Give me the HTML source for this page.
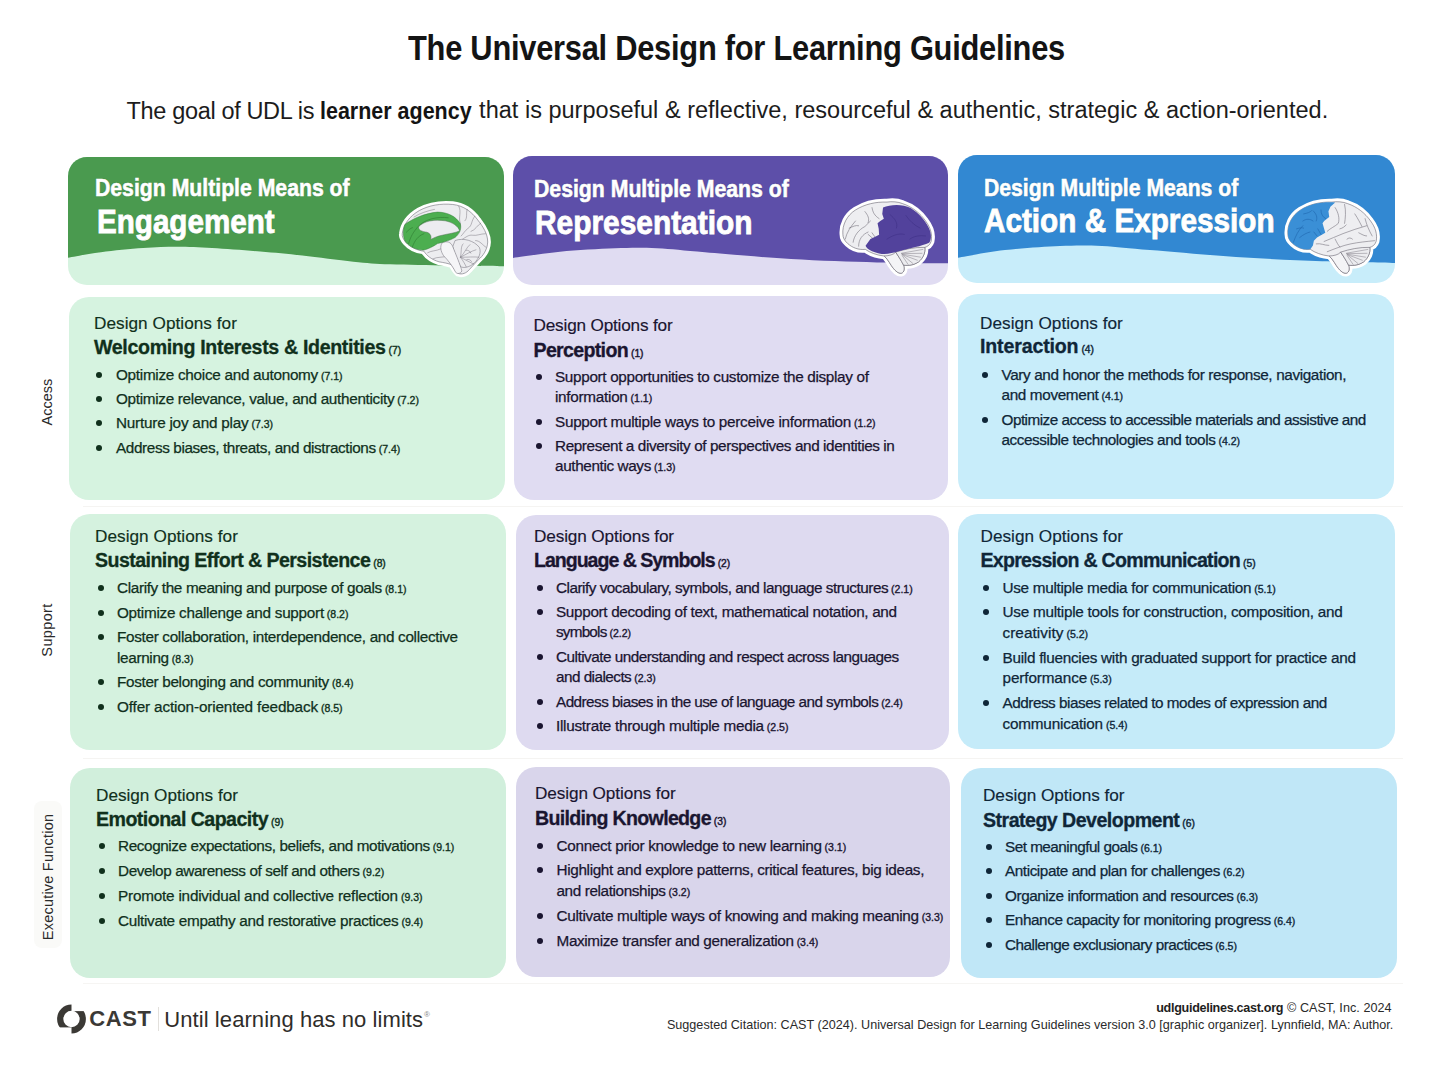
<!DOCTYPE html>
<html><head><meta charset="utf-8"><style>
html,body{margin:0;padding:0;background:#ffffff;}
body{width:1451px;height:1079px;position:relative;overflow:hidden;font-family:"Liberation Sans", sans-serif;}
.t{position:absolute;white-space:nowrap;}
.b{position:absolute;}

</style></head><body>
<div class="t" style="left:407.90px;top:31.02px;font-size:34.8px;line-height:34.8px;font-weight:700;color:#141414;letter-spacing:-0.300px;transform:scaleX(0.8867);transform-origin:0 0;">The Universal Design for Learning Guidelines</div>
<div class="t" style="left:126.60px;top:99.93px;font-size:23.5px;line-height:23.5px;font-weight:400;color:#1c1c1c;letter-spacing:-0.350px;">The goal of UDL is</div>
<div class="t" style="left:320.30px;top:99.53px;font-size:23.5px;line-height:23.5px;font-weight:700;color:#141414;letter-spacing:0.000px;transform:scaleX(0.9140);transform-origin:0 0;">learner agency</div>
<div class="t" style="left:479.10px;top:98.93px;font-size:23.5px;line-height:23.5px;font-weight:400;color:#1c1c1c;letter-spacing:0.016px;">that is purposeful &amp; reflective, resourceful &amp; authentic, strategic &amp; action-oriented.</div>
<div class="b" style="left:68px;top:156.5px;width:436px;height:128.5px;background:#d6f3e0;border-radius:19px;overflow:hidden"><svg width="436" height="128.5" style="position:absolute;left:0;top:0"><path d="M0,0 L436,0 L436,109.3 C426.7,109.2 399.4,108.9 380.4,108.6 C361.5,108.3 338.2,107.9 322.4,107.3 C306.5,106.7 300.0,106.2 285.3,104.7 C270.6,103.2 249.8,100.2 234.3,98.5 C218.8,96.8 207.2,95.7 192.2,94.5 C177.2,93.3 158.0,91.9 144.2,91.1 C130.3,90.3 120.6,89.7 109.1,89.7 C97.6,89.7 87.8,90.2 75.1,91.1 C62.4,92.0 45.6,93.6 33.0,95.2 C20.5,96.8 5.5,99.8 0.0,100.7 Z" fill="#4a9a4f"/></svg></div>
<div class="t" style="left:95.00px;top:177.00px;font-size:23.3px;line-height:23.3px;font-weight:700;color:#ffffff;letter-spacing:0.000px;transform:scaleX(0.9108);transform-origin:0 0;-webkit-text-stroke:0.6px #fff;text-shadow:0 0 1.2px rgba(0,30,0,0.55);">Design Multiple Means of</div>
<div class="t" style="left:96.80px;top:204.87px;font-size:33.8px;line-height:33.8px;font-weight:700;color:#ffffff;letter-spacing:0.000px;transform:scaleX(0.8758);transform-origin:0 0;-webkit-text-stroke:0.9px #fff;text-shadow:0 0 1.2px rgba(0,30,0,0.55);">Engagement</div>
<div class="b" style="left:513px;top:156px;width:435px;height:129px;background:#e0dcf2;border-radius:19px;overflow:hidden"><svg width="435" height="129" style="position:absolute;left:0;top:0"><path d="M0,0 L435,0 L435,107.3 C423.2,107.2 390.2,107.1 364.0,106.4 C337.8,105.7 306.7,104.7 278.0,103.0 C249.3,101.3 214.3,98.1 192.0,96.3 C169.7,94.5 159.0,93.0 144.0,92.3 C129.0,91.6 118.2,91.7 102.0,92.3 C85.8,92.9 64.0,94.1 47.0,95.7 C30.0,97.3 7.8,100.9 0.0,101.9 Z" fill="#5d4fa9"/></svg></div>
<div class="t" style="left:534.20px;top:178.00px;font-size:23.3px;line-height:23.3px;font-weight:700;color:#ffffff;letter-spacing:0.000px;transform:scaleX(0.9115);transform-origin:0 0;-webkit-text-stroke:0.6px #fff;text-shadow:0 0 1.2px rgba(0,30,0,0.55);">Design Multiple Means of</div>
<div class="t" style="left:534.80px;top:205.97px;font-size:33.8px;line-height:33.8px;font-weight:700;color:#ffffff;letter-spacing:0.000px;transform:scaleX(0.8840);transform-origin:0 0;-webkit-text-stroke:0.9px #fff;text-shadow:0 0 1.2px rgba(0,30,0,0.55);">Representation</div>
<div class="b" style="left:958px;top:154.5px;width:437px;height:128.5px;background:#c8edfa;border-radius:19px;overflow:hidden"><svg width="437" height="128.5" style="position:absolute;left:0;top:0"><path d="M0,0 L437,0 L437,107.9 C424.8,107.6 390.5,107.2 364.0,106.2 C337.5,105.2 306.7,103.8 278.0,101.9 C249.3,100.1 214.3,96.9 192.0,95.1 C169.7,93.3 159.0,91.7 144.0,91.0 C129.0,90.3 118.2,90.3 102.0,91.0 C85.8,91.7 64.0,93.1 47.0,95.1 C30.0,97.0 7.8,101.4 0.0,102.7 Z" fill="#3288d2"/></svg></div>
<div class="t" style="left:984.00px;top:176.90px;font-size:23.3px;line-height:23.3px;font-weight:700;color:#ffffff;letter-spacing:0.000px;transform:scaleX(0.9093);transform-origin:0 0;-webkit-text-stroke:0.6px #fff;text-shadow:0 0 1.2px rgba(0,30,0,0.55);">Design Multiple Means of</div>
<div class="t" style="left:983.60px;top:203.97px;font-size:33.8px;line-height:33.8px;font-weight:700;color:#ffffff;letter-spacing:0.000px;transform:scaleX(0.8790);transform-origin:0 0;-webkit-text-stroke:0.9px #fff;text-shadow:0 0 1.2px rgba(0,30,0,0.55);">Action &amp; Expression</div>
<svg class="b" style="left:395px;top:198px" width="100" height="82" viewBox="0 0 1316 1079">
<path d="M95,470 C110,350 190,240 320,165 C450,95 600,70 760,85 C900,100 1010,180 1090,290 C1160,380 1220,470 1220,580 C1215,680 1160,760 1100,810 C1060,850 1020,900 980,940 C940,990 880,1012 830,992 C790,960 770,920 750,880 C700,860 640,850 580,840 C480,810 420,760 380,700 C300,690 200,650 140,580 C105,540 90,500 95,470 Z" fill="#fff" stroke="#fff" stroke-width="84" stroke-linejoin="round"/>
<path d="M95,470 C110,350 190,240 320,165 C450,95 600,70 760,85 C900,100 1010,180 1090,290 C1160,380 1220,470 1220,580 C1215,680 1160,760 1100,810 C1060,850 1020,900 980,940 C940,990 880,1012 830,992 C790,960 770,920 750,880 C700,860 640,850 580,840 C480,810 420,760 380,700 C300,690 200,650 140,580 C105,540 90,500 95,470 Z" fill="#ededf0" stroke="#5d5a66" stroke-width="7"/>
<path d="M840,110 C880,180 830,260 860,330 C870,380 830,420 800,450 M1050,240 C1000,300 1020,360 960,400 C920,430 900,470 870,500 M1190,470 C1120,470 1080,500 1020,490 C970,480 930,520 890,540 M950,150 C930,200 960,260 920,300 M1130,330 C1080,360 1060,420 1000,440 M1200,650 C1150,620 1120,560 1060,560 M430,720 C480,690 540,700 600,670 M500,800 C560,770 620,790 700,760 M250,250 C330,200 420,170 520,150" fill="none" stroke="#6e6a74" stroke-width="6" stroke-linecap="round"/>
<path d="M790,560 C900,520 1040,560 1110,650 C1140,720 1100,800 1040,860 C980,910 900,930 860,900 C820,820 780,720 760,640 Z" fill="#ececef" stroke="#5d5a66" stroke-width="6"/>
<path d="M860,780 C880,700 860,640 900,600 M860,780 C920,720 940,650 990,610 M860,780 C940,740 1000,700 1070,680 M860,780 C960,780 1040,770 1110,780 M860,780 C940,820 990,850 1040,870 M860,780 C900,830 920,870 940,910 M930,690 C960,680 990,700 1000,730 M940,810 C970,800 1000,820 1010,840" fill="none" stroke="#706c78" stroke-width="6"/>
<path d="M620,590 C680,560 740,580 760,640 C800,740 860,880 880,960 C860,1000 820,1000 800,980 C760,900 700,820 640,760 C600,700 590,640 620,590 Z" fill="#f5f5f7" stroke="#5d5a66" stroke-width="6"/>
<path d="M130,350 C230,270 400,200 560,185 C700,190 800,240 860,340 C880,420 840,480 790,520 C720,560 640,580 560,600 C500,640 440,670 380,685 C300,690 200,650 140,580 C105,530 100,420 130,350 Z" fill="#4cae50" stroke="#2f7a35" stroke-width="6"/>
<path d="M180,600 C200,520 240,440 320,360 C400,280 560,240 700,260 M230,640 C260,560 300,500 380,470 M150,450 C180,420 200,400 230,390" fill="none" stroke="#2e7d32" stroke-width="8" stroke-linecap="round"/>
<path d="M310,380 C380,300 520,280 660,300 C760,320 830,370 850,430 C800,460 700,470 620,490 C560,500 500,530 470,545 C480,500 470,470 420,450 C360,440 310,430 310,380 Z" fill="#ececf0" stroke="#4d6650" stroke-width="6"/>
</svg><svg class="b" style="left:835px;top:195px" width="105" height="85" viewBox="0 0 1333 1079">
<path d="M100,500 C90,380 150,260 260,190 C380,115 520,85 660,90 C720,80 800,85 860,110 C980,150 1080,230 1150,330 C1210,410 1240,500 1220,590 C1205,635 1175,655 1140,665 C1150,730 1120,800 1060,850 C1000,890 930,900 870,890 C885,935 880,980 845,992 C800,1002 750,950 715,895 C680,840 655,800 625,775 C530,765 440,730 385,690 C300,700 220,670 160,615 C120,580 100,540 100,500 Z" fill="#fff" stroke="#fff" stroke-width="84" stroke-linejoin="round"/>
<path d="M100,500 C90,380 150,260 260,190 C380,115 520,85 660,90 C720,80 800,85 860,110 C980,150 1080,230 1150,330 C1210,410 1240,500 1220,590 C1205,635 1175,655 1140,665 C1150,730 1120,800 1060,850 C1000,890 930,900 870,890 C885,935 880,980 845,992 C800,1002 750,950 715,895 C680,840 655,800 625,775 C530,765 440,730 385,690 C300,700 220,670 160,615 C120,580 100,540 100,500 Z" fill="#eeeef1" stroke="#5d5a66" stroke-width="7"/>
<path d="M625,775 C690,770 740,760 770,725 C800,770 840,830 870,890 C885,935 880,980 845,992 C800,1002 750,950 715,895 C680,840 655,800 625,775 Z" fill="#f4f4f6" stroke="#5d5a66" stroke-width="7"/>
<path d="M770,725 C880,690 1010,660 1140,665 C1150,730 1120,800 1060,850 C1000,890 930,900 870,890 C840,830 800,770 770,725 Z" fill="#ececef" stroke="#5d5a66" stroke-width="7"/>
<path d="M840,740 L1120,690 M840,745 L1110,740 M845,750 L1090,790 M850,755 L1050,830 M855,760 L990,870 M850,765 L930,885" fill="none" stroke="#77747e" stroke-width="6"/>
<path d="M130,560 C150,470 200,400 260,330 M230,600 C240,520 300,440 380,400 L450,330 M300,650 C300,560 350,500 420,470 M180,420 C230,400 260,380 300,390 M380,210 C420,260 440,300 420,350 M470,160 C480,220 500,260 560,300 M520,550 L470,480 M490,560 L420,500" fill="none" stroke="#6e6a74" stroke-width="7" stroke-linecap="round"/>
<path d="M610,160 C700,118 860,112 960,165 C1060,225 1140,315 1190,415 C1232,500 1222,575 1195,605 C1100,650 950,672 820,712 C720,742 640,758 560,742 C470,722 405,690 388,645 L420,600 L450,560 L510,530 L560,505 L555,430 L540,360 L575,330 L620,300 L600,240 Z" fill="#52429c"/>
<path d="M700,250 C760,300 800,350 780,420 M900,260 C950,330 1000,380 1080,420 M660,560 C720,520 800,480 880,500 M950,560 C1000,520 1080,510 1150,520" fill="none" stroke="#3f3188" stroke-width="8" stroke-linecap="round"/>
</svg><svg class="b" style="left:1280px;top:195px" width="105" height="85" viewBox="0 0 1333 1079">
<path d="M100,500 C90,380 150,260 260,190 C380,115 520,85 660,90 C720,80 800,85 860,110 C980,150 1080,230 1150,330 C1210,410 1240,500 1220,590 C1205,635 1175,655 1140,665 C1150,730 1120,800 1060,850 C1000,890 930,900 870,890 C885,935 880,980 845,992 C800,1002 750,950 715,895 C680,840 655,800 625,775 C530,765 440,730 385,690 C300,700 220,670 160,615 C120,580 100,540 100,500 Z" fill="#fff" stroke="#fff" stroke-width="84" stroke-linejoin="round"/>
<path d="M100,500 C90,380 150,260 260,190 C380,115 520,85 660,90 C720,80 800,85 860,110 C980,150 1080,230 1150,330 C1210,410 1240,500 1220,590 C1205,635 1175,655 1140,665 C1150,730 1120,800 1060,850 C1000,890 930,900 870,890 C885,935 880,980 845,992 C800,1002 750,950 715,895 C680,840 655,800 625,775 C530,765 440,730 385,690 C300,700 220,670 160,615 C120,580 100,540 100,500 Z" fill="#eeeef1" stroke="#5d5a66" stroke-width="7"/>
<path d="M625,775 C690,770 740,760 770,725 C800,770 840,830 870,890 C885,935 880,980 845,992 C800,1002 750,950 715,895 C680,840 655,800 625,775 Z" fill="#f4f4f6" stroke="#5d5a66" stroke-width="7"/>
<path d="M770,725 C880,690 1010,660 1140,665 C1150,730 1120,800 1060,850 C1000,890 930,900 870,890 C840,830 800,770 770,725 Z" fill="#ececef" stroke="#5d5a66" stroke-width="7"/>
<path d="M840,740 L1120,690 M840,745 L1110,740 M845,750 L1090,790 M850,755 L1050,830 M855,760 L990,870 M850,765 L930,885" fill="none" stroke="#77747e" stroke-width="6"/>
<path d="M700,160 C740,220 760,300 740,360 C700,400 640,420 600,460 M820,120 C840,200 830,300 820,360 M560,590 C640,560 720,520 800,490 C900,450 1000,420 1100,390 M600,720 C700,680 800,640 900,620 C1000,600 1100,590 1200,580 M460,620 C520,610 560,640 620,640 M700,560 C720,600 740,640 760,660 M850,560 C870,540 900,540 920,560 M1000,480 C1040,500 1070,520 1100,520 M950,240 C990,300 1020,360 1040,400 M1080,300 C1100,380 1130,450 1170,520 M760,430 C800,420 820,400 840,380" fill="none" stroke="#6e6a74" stroke-width="7" stroke-linecap="round"/>
<path d="M100,500 C90,380 150,260 260,190 C380,115 520,85 700,95 L640,150 L615,205 L625,280 L560,330 L540,360 L575,480 L470,540 L430,580 L418,640 L385,690 C300,700 220,670 160,615 C120,580 100,540 100,500 Z" fill="#3a8fd6"/>
<path d="M170,600 C200,520 230,450 290,390 M250,540 C300,500 340,480 380,470 M290,330 C330,300 380,300 420,330 M210,430 C240,420 280,410 300,420 M420,200 C460,240 480,280 460,330 M520,190 C520,240 540,280 580,300 M300,240 C350,230 380,220 400,200 M470,520 L430,470 M520,500 L480,430" fill="none" stroke="#2068b0" stroke-width="8" stroke-linecap="round"/>
</svg>
<div class="b" style="left:83px;top:506px;width:1320px;height:1px;background:#f5f4f2"></div>
<div class="b" style="left:83px;top:758px;width:1320px;height:1px;background:#f5f4f2"></div>
<div class="b" style="left:83px;top:983px;width:1320px;height:1px;background:#f6f5f3"></div>
<div class="b" style="left:34px;top:801px;width:28px;height:147px;border-radius:8px;background:#fafaf8"></div>
<div class="b" style="left:69px;top:297px;width:436px;height:203px;background:#d6f3e0;border-radius:20px;"></div>
<div class="t" style="left:94.00px;top:315.38px;font-size:17.2px;line-height:17.2px;font-weight:400;color:#10301c;letter-spacing:0.035px;-webkit-text-stroke:0.15px #10301c;">Design Options for</div>
<div class="t" style="left:94.00px;top:338.34px;font-size:19.6px;line-height:19.6px;font-weight:700;color:#10301c;letter-spacing:-0.335px;-webkit-text-stroke:0.3px #10301c;">Welcoming Interests &amp; Identities<span style="font-size:10.3px;font-weight:700;letter-spacing:0;margin-left:3px;font-weight:400;-webkit-text-stroke:0.4px #10301c">(7)</span></div>
<div class="t" style="left:116.00px;top:367.00px;font-size:15.3px;line-height:15.3px;font-weight:400;color:#10301c;letter-spacing:-0.289px;-webkit-text-stroke:0.25px #10301c;">Optimize choice and autonomy<span style="font-size:10.3px;font-weight:700;letter-spacing:0;margin-left:3px;font-size:10.5px;font-weight:400;-webkit-text-stroke:0.35px #10301c">(7.1)</span></div>
<div class="b" style="left:96.0px;top:372.2px;width:6px;height:6px;border-radius:3px;background:#10301c"></div>
<div class="t" style="left:116.00px;top:391.00px;font-size:15.3px;line-height:15.3px;font-weight:400;color:#10301c;letter-spacing:-0.310px;-webkit-text-stroke:0.25px #10301c;">Optimize relevance, value, and authenticity<span style="font-size:10.3px;font-weight:700;letter-spacing:0;margin-left:3px;font-size:10.5px;font-weight:400;-webkit-text-stroke:0.35px #10301c">(7.2)</span></div>
<div class="b" style="left:96.0px;top:396.2px;width:6px;height:6px;border-radius:3px;background:#10301c"></div>
<div class="t" style="left:116.00px;top:415.00px;font-size:15.3px;line-height:15.3px;font-weight:400;color:#10301c;letter-spacing:-0.226px;-webkit-text-stroke:0.25px #10301c;">Nurture joy and play<span style="font-size:10.3px;font-weight:700;letter-spacing:0;margin-left:3px;font-size:10.5px;font-weight:400;-webkit-text-stroke:0.35px #10301c">(7.3)</span></div>
<div class="b" style="left:96.0px;top:420.2px;width:6px;height:6px;border-radius:3px;background:#10301c"></div>
<div class="t" style="left:116.00px;top:439.50px;font-size:15.3px;line-height:15.3px;font-weight:400;color:#10301c;letter-spacing:-0.385px;-webkit-text-stroke:0.25px #10301c;">Address biases, threats, and distractions<span style="font-size:10.3px;font-weight:700;letter-spacing:0;margin-left:3px;font-size:10.5px;font-weight:400;-webkit-text-stroke:0.35px #10301c">(7.4)</span></div>
<div class="b" style="left:96.0px;top:444.7px;width:6px;height:6px;border-radius:3px;background:#10301c"></div>
<div class="b" style="left:514px;top:296px;width:434px;height:204px;background:#e0dcf2;border-radius:20px;"></div>
<div class="t" style="left:533.50px;top:317.38px;font-size:17.2px;line-height:17.2px;font-weight:400;color:#1a1530;letter-spacing:-0.188px;-webkit-text-stroke:0.15px #1a1530;">Design Options for</div>
<div class="t" style="left:533.50px;top:340.84px;font-size:19.6px;line-height:19.6px;font-weight:700;color:#1a1530;letter-spacing:-0.680px;-webkit-text-stroke:0.3px #1a1530;">Perception<span style="font-size:10.3px;font-weight:700;letter-spacing:0;margin-left:3px;font-weight:400;-webkit-text-stroke:0.4px #1a1530">(1)</span></div>
<div class="t" style="left:555.00px;top:369.00px;font-size:15.3px;line-height:15.3px;font-weight:400;color:#1a1530;letter-spacing:-0.333px;-webkit-text-stroke:0.25px #1a1530;">Support opportunities to customize the display of</div>
<div class="b" style="left:536.0px;top:374.2px;width:6px;height:6px;border-radius:3px;background:#1a1530"></div>
<div class="t" style="left:555.00px;top:389.00px;font-size:15.3px;line-height:15.3px;font-weight:400;color:#1a1530;letter-spacing:-0.280px;-webkit-text-stroke:0.25px #1a1530;">information<span style="font-size:10.3px;font-weight:700;letter-spacing:0;margin-left:3px;font-size:10.5px;font-weight:400;-webkit-text-stroke:0.35px #1a1530">(1.1)</span></div>
<div class="t" style="left:555.00px;top:413.50px;font-size:15.3px;line-height:15.3px;font-weight:400;color:#1a1530;letter-spacing:-0.282px;-webkit-text-stroke:0.25px #1a1530;">Support multiple ways to perceive information<span style="font-size:10.3px;font-weight:700;letter-spacing:0;margin-left:3px;font-size:10.5px;font-weight:400;-webkit-text-stroke:0.35px #1a1530">(1.2)</span></div>
<div class="b" style="left:536.0px;top:418.7px;width:6px;height:6px;border-radius:3px;background:#1a1530"></div>
<div class="t" style="left:555.00px;top:438.00px;font-size:15.3px;line-height:15.3px;font-weight:400;color:#1a1530;letter-spacing:-0.398px;-webkit-text-stroke:0.25px #1a1530;">Represent a diversity of perspectives and identities in</div>
<div class="b" style="left:536.0px;top:443.2px;width:6px;height:6px;border-radius:3px;background:#1a1530"></div>
<div class="t" style="left:555.00px;top:458.00px;font-size:15.3px;line-height:15.3px;font-weight:400;color:#1a1530;letter-spacing:-0.377px;-webkit-text-stroke:0.25px #1a1530;">authentic ways<span style="font-size:10.3px;font-weight:700;letter-spacing:0;margin-left:3px;font-size:10.5px;font-weight:400;-webkit-text-stroke:0.35px #1a1530">(1.3)</span></div>
<div class="b" style="left:958px;top:294px;width:436px;height:205px;background:#c8edfa;border-radius:20px;"></div>
<div class="t" style="left:980.00px;top:314.88px;font-size:17.2px;line-height:17.2px;font-weight:400;color:#0f2638;letter-spacing:0.024px;-webkit-text-stroke:0.15px #0f2638;">Design Options for</div>
<div class="t" style="left:980.00px;top:337.34px;font-size:19.6px;line-height:19.6px;font-weight:700;color:#0f2638;letter-spacing:-0.160px;-webkit-text-stroke:0.3px #0f2638;">Interaction<span style="font-size:10.3px;font-weight:700;letter-spacing:0;margin-left:3px;font-weight:400;-webkit-text-stroke:0.4px #0f2638">(4)</span></div>
<div class="t" style="left:1001.50px;top:366.50px;font-size:15.3px;line-height:15.3px;font-weight:400;color:#0f2638;letter-spacing:-0.367px;-webkit-text-stroke:0.25px #0f2638;">Vary and honor the methods for response, navigation,</div>
<div class="b" style="left:982.0px;top:371.7px;width:6px;height:6px;border-radius:3px;background:#0f2638"></div>
<div class="t" style="left:1001.50px;top:387.00px;font-size:15.3px;line-height:15.3px;font-weight:400;color:#0f2638;letter-spacing:-0.355px;-webkit-text-stroke:0.25px #0f2638;">and movement<span style="font-size:10.3px;font-weight:700;letter-spacing:0;margin-left:3px;font-size:10.5px;font-weight:400;-webkit-text-stroke:0.35px #0f2638">(4.1)</span></div>
<div class="t" style="left:1001.50px;top:411.50px;font-size:15.3px;line-height:15.3px;font-weight:400;color:#0f2638;letter-spacing:-0.514px;-webkit-text-stroke:0.25px #0f2638;">Optimize access to accessible materials and assistive and</div>
<div class="b" style="left:982.0px;top:416.7px;width:6px;height:6px;border-radius:3px;background:#0f2638"></div>
<div class="t" style="left:1001.50px;top:432.00px;font-size:15.3px;line-height:15.3px;font-weight:400;color:#0f2638;letter-spacing:-0.425px;-webkit-text-stroke:0.25px #0f2638;">accessible technologies and tools<span style="font-size:10.3px;font-weight:700;letter-spacing:0;margin-left:3px;font-size:10.5px;font-weight:400;-webkit-text-stroke:0.35px #0f2638">(4.2)</span></div>
<div class="b" style="left:70px;top:514px;width:436px;height:236px;background:#d5f2df;border-radius:20px;"></div>
<div class="t" style="left:95.00px;top:528.38px;font-size:17.2px;line-height:17.2px;font-weight:400;color:#10301c;letter-spacing:0.035px;-webkit-text-stroke:0.15px #10301c;">Design Options for</div>
<div class="t" style="left:95.00px;top:551.34px;font-size:19.6px;line-height:19.6px;font-weight:700;color:#10301c;letter-spacing:-0.570px;-webkit-text-stroke:0.3px #10301c;">Sustaining Effort &amp; Persistence<span style="font-size:10.3px;font-weight:700;letter-spacing:0;margin-left:3px;font-weight:400;-webkit-text-stroke:0.4px #10301c">(8)</span></div>
<div class="t" style="left:117.00px;top:580.00px;font-size:15.3px;line-height:15.3px;font-weight:400;color:#10301c;letter-spacing:-0.351px;-webkit-text-stroke:0.25px #10301c;">Clarify the meaning and purpose of goals<span style="font-size:10.3px;font-weight:700;letter-spacing:0;margin-left:3px;font-size:10.5px;font-weight:400;-webkit-text-stroke:0.35px #10301c">(8.1)</span></div>
<div class="b" style="left:97.5px;top:585.2px;width:6px;height:6px;border-radius:3px;background:#10301c"></div>
<div class="t" style="left:117.00px;top:604.50px;font-size:15.3px;line-height:15.3px;font-weight:400;color:#10301c;letter-spacing:-0.276px;-webkit-text-stroke:0.25px #10301c;">Optimize challenge and support<span style="font-size:10.3px;font-weight:700;letter-spacing:0;margin-left:3px;font-size:10.5px;font-weight:400;-webkit-text-stroke:0.35px #10301c">(8.2)</span></div>
<div class="b" style="left:97.5px;top:609.7px;width:6px;height:6px;border-radius:3px;background:#10301c"></div>
<div class="t" style="left:117.00px;top:628.50px;font-size:15.3px;line-height:15.3px;font-weight:400;color:#10301c;letter-spacing:-0.325px;-webkit-text-stroke:0.25px #10301c;">Foster collaboration, interdependence, and collective</div>
<div class="b" style="left:97.5px;top:633.7px;width:6px;height:6px;border-radius:3px;background:#10301c"></div>
<div class="t" style="left:117.00px;top:650.00px;font-size:15.3px;line-height:15.3px;font-weight:400;color:#10301c;letter-spacing:-0.329px;-webkit-text-stroke:0.25px #10301c;">learning<span style="font-size:10.3px;font-weight:700;letter-spacing:0;margin-left:3px;font-size:10.5px;font-weight:400;-webkit-text-stroke:0.35px #10301c">(8.3)</span></div>
<div class="t" style="left:117.00px;top:674.00px;font-size:15.3px;line-height:15.3px;font-weight:400;color:#10301c;letter-spacing:-0.334px;-webkit-text-stroke:0.25px #10301c;">Foster belonging and community<span style="font-size:10.3px;font-weight:700;letter-spacing:0;margin-left:3px;font-size:10.5px;font-weight:400;-webkit-text-stroke:0.35px #10301c">(8.4)</span></div>
<div class="b" style="left:97.5px;top:679.2px;width:6px;height:6px;border-radius:3px;background:#10301c"></div>
<div class="t" style="left:117.00px;top:698.50px;font-size:15.3px;line-height:15.3px;font-weight:400;color:#10301c;letter-spacing:-0.152px;-webkit-text-stroke:0.25px #10301c;">Offer action-oriented feedback<span style="font-size:10.3px;font-weight:700;letter-spacing:0;margin-left:3px;font-size:10.5px;font-weight:400;-webkit-text-stroke:0.35px #10301c">(8.5)</span></div>
<div class="b" style="left:97.5px;top:703.7px;width:6px;height:6px;border-radius:3px;background:#10301c"></div>
<div class="b" style="left:516px;top:515px;width:433px;height:235px;background:#dedaf0;border-radius:20px;"></div>
<div class="t" style="left:534.00px;top:528.38px;font-size:17.2px;line-height:17.2px;font-weight:400;color:#1a1530;letter-spacing:-0.135px;-webkit-text-stroke:0.15px #1a1530;">Design Options for</div>
<div class="t" style="left:534.00px;top:550.84px;font-size:19.6px;line-height:19.6px;font-weight:700;color:#1a1530;letter-spacing:-1.033px;-webkit-text-stroke:0.3px #1a1530;">Language &amp; Symbols<span style="font-size:10.3px;font-weight:700;letter-spacing:0;margin-left:3px;font-weight:400;-webkit-text-stroke:0.4px #1a1530">(2)</span></div>
<div class="t" style="left:556.00px;top:579.50px;font-size:15.3px;line-height:15.3px;font-weight:400;color:#1a1530;letter-spacing:-0.492px;-webkit-text-stroke:0.25px #1a1530;">Clarify vocabulary, symbols, and language structures<span style="font-size:10.3px;font-weight:700;letter-spacing:0;margin-left:3px;font-size:10.5px;font-weight:400;-webkit-text-stroke:0.35px #1a1530">(2.1)</span></div>
<div class="b" style="left:536.5px;top:584.7px;width:6px;height:6px;border-radius:3px;background:#1a1530"></div>
<div class="t" style="left:556.00px;top:603.50px;font-size:15.3px;line-height:15.3px;font-weight:400;color:#1a1530;letter-spacing:-0.333px;-webkit-text-stroke:0.25px #1a1530;">Support decoding of text, mathematical notation, and</div>
<div class="b" style="left:536.5px;top:608.7px;width:6px;height:6px;border-radius:3px;background:#1a1530"></div>
<div class="t" style="left:556.00px;top:623.50px;font-size:15.3px;line-height:15.3px;font-weight:400;color:#1a1530;letter-spacing:-0.800px;-webkit-text-stroke:0.25px #1a1530;">symbols<span style="font-size:10.3px;font-weight:700;letter-spacing:0;margin-left:3px;font-size:10.5px;font-weight:400;-webkit-text-stroke:0.35px #1a1530">(2.2)</span></div>
<div class="t" style="left:556.00px;top:648.50px;font-size:15.3px;line-height:15.3px;font-weight:400;color:#1a1530;letter-spacing:-0.506px;-webkit-text-stroke:0.25px #1a1530;">Cultivate understanding and respect across languages</div>
<div class="b" style="left:536.5px;top:653.7px;width:6px;height:6px;border-radius:3px;background:#1a1530"></div>
<div class="t" style="left:556.00px;top:668.50px;font-size:15.3px;line-height:15.3px;font-weight:400;color:#1a1530;letter-spacing:-0.536px;-webkit-text-stroke:0.25px #1a1530;">and dialects<span style="font-size:10.3px;font-weight:700;letter-spacing:0;margin-left:3px;font-size:10.5px;font-weight:400;-webkit-text-stroke:0.35px #1a1530">(2.3)</span></div>
<div class="t" style="left:556.00px;top:693.50px;font-size:15.3px;line-height:15.3px;font-weight:400;color:#1a1530;letter-spacing:-0.556px;-webkit-text-stroke:0.25px #1a1530;">Address biases in the use of language and symbols<span style="font-size:10.3px;font-weight:700;letter-spacing:0;margin-left:3px;font-size:10.5px;font-weight:400;-webkit-text-stroke:0.35px #1a1530">(2.4)</span></div>
<div class="b" style="left:536.5px;top:698.7px;width:6px;height:6px;border-radius:3px;background:#1a1530"></div>
<div class="t" style="left:556.00px;top:717.50px;font-size:15.3px;line-height:15.3px;font-weight:400;color:#1a1530;letter-spacing:-0.272px;-webkit-text-stroke:0.25px #1a1530;">Illustrate through multiple media<span style="font-size:10.3px;font-weight:700;letter-spacing:0;margin-left:3px;font-size:10.5px;font-weight:400;-webkit-text-stroke:0.35px #1a1530">(2.5)</span></div>
<div class="b" style="left:536.5px;top:722.7px;width:6px;height:6px;border-radius:3px;background:#1a1530"></div>
<div class="b" style="left:958px;top:514px;width:437px;height:235px;background:#c5ebf9;border-radius:20px;"></div>
<div class="t" style="left:980.50px;top:528.38px;font-size:17.2px;line-height:17.2px;font-weight:400;color:#0f2638;letter-spacing:0.006px;-webkit-text-stroke:0.15px #0f2638;">Design Options for</div>
<div class="t" style="left:980.50px;top:550.84px;font-size:19.6px;line-height:19.6px;font-weight:700;color:#0f2638;letter-spacing:-0.736px;-webkit-text-stroke:0.3px #0f2638;">Expression &amp; Communication<span style="font-size:10.3px;font-weight:700;letter-spacing:0;margin-left:3px;font-weight:400;-webkit-text-stroke:0.4px #0f2638">(5)</span></div>
<div class="t" style="left:1002.50px;top:579.50px;font-size:15.3px;line-height:15.3px;font-weight:400;color:#0f2638;letter-spacing:-0.294px;-webkit-text-stroke:0.25px #0f2638;">Use multiple media for communication<span style="font-size:10.3px;font-weight:700;letter-spacing:0;margin-left:3px;font-size:10.5px;font-weight:400;-webkit-text-stroke:0.35px #0f2638">(5.1)</span></div>
<div class="b" style="left:983.0px;top:584.7px;width:6px;height:6px;border-radius:3px;background:#0f2638"></div>
<div class="t" style="left:1002.50px;top:604.00px;font-size:15.3px;line-height:15.3px;font-weight:400;color:#0f2638;letter-spacing:-0.260px;-webkit-text-stroke:0.25px #0f2638;">Use multiple tools for construction, composition, and</div>
<div class="b" style="left:983.0px;top:609.2px;width:6px;height:6px;border-radius:3px;background:#0f2638"></div>
<div class="t" style="left:1002.50px;top:624.50px;font-size:15.3px;line-height:15.3px;font-weight:400;color:#0f2638;letter-spacing:0.056px;-webkit-text-stroke:0.25px #0f2638;">creativity<span style="font-size:10.3px;font-weight:700;letter-spacing:0;margin-left:3px;font-size:10.5px;font-weight:400;-webkit-text-stroke:0.35px #0f2638">(5.2)</span></div>
<div class="t" style="left:1002.50px;top:649.50px;font-size:15.3px;line-height:15.3px;font-weight:400;color:#0f2638;letter-spacing:-0.272px;-webkit-text-stroke:0.25px #0f2638;">Build fluencies with graduated support for practice and</div>
<div class="b" style="left:983.0px;top:654.7px;width:6px;height:6px;border-radius:3px;background:#0f2638"></div>
<div class="t" style="left:1002.50px;top:670.00px;font-size:15.3px;line-height:15.3px;font-weight:400;color:#0f2638;letter-spacing:-0.120px;-webkit-text-stroke:0.25px #0f2638;">performance<span style="font-size:10.3px;font-weight:700;letter-spacing:0;margin-left:3px;font-size:10.5px;font-weight:400;-webkit-text-stroke:0.35px #0f2638">(5.3)</span></div>
<div class="t" style="left:1002.50px;top:694.50px;font-size:15.3px;line-height:15.3px;font-weight:400;color:#0f2638;letter-spacing:-0.481px;-webkit-text-stroke:0.25px #0f2638;">Address biases related to modes of expression and</div>
<div class="b" style="left:983.0px;top:699.7px;width:6px;height:6px;border-radius:3px;background:#0f2638"></div>
<div class="t" style="left:1002.50px;top:716.00px;font-size:15.3px;line-height:15.3px;font-weight:400;color:#0f2638;letter-spacing:-0.192px;-webkit-text-stroke:0.25px #0f2638;">communication<span style="font-size:10.3px;font-weight:700;letter-spacing:0;margin-left:3px;font-size:10.5px;font-weight:400;-webkit-text-stroke:0.35px #0f2638">(5.4)</span></div>
<div class="b" style="left:70px;top:768px;width:436px;height:210px;background:#d1efdc;border-radius:20px;"></div>
<div class="t" style="left:96.00px;top:787.38px;font-size:17.2px;line-height:17.2px;font-weight:400;color:#10301c;letter-spacing:-0.024px;-webkit-text-stroke:0.15px #10301c;">Design Options for</div>
<div class="t" style="left:96.00px;top:810.34px;font-size:19.6px;line-height:19.6px;font-weight:700;color:#10301c;letter-spacing:-0.545px;-webkit-text-stroke:0.3px #10301c;">Emotional Capacity<span style="font-size:10.3px;font-weight:700;letter-spacing:0;margin-left:3px;font-weight:400;-webkit-text-stroke:0.4px #10301c">(9)</span></div>
<div class="t" style="left:118.00px;top:838.00px;font-size:15.3px;line-height:15.3px;font-weight:400;color:#10301c;letter-spacing:-0.396px;-webkit-text-stroke:0.25px #10301c;">Recognize expectations, beliefs, and motivations<span style="font-size:10.3px;font-weight:700;letter-spacing:0;margin-left:3px;font-size:10.5px;font-weight:400;-webkit-text-stroke:0.35px #10301c">(9.1)</span></div>
<div class="b" style="left:99.0px;top:843.2px;width:6px;height:6px;border-radius:3px;background:#10301c"></div>
<div class="t" style="left:118.00px;top:863.00px;font-size:15.3px;line-height:15.3px;font-weight:400;color:#10301c;letter-spacing:-0.400px;-webkit-text-stroke:0.25px #10301c;">Develop awareness of self and others<span style="font-size:10.3px;font-weight:700;letter-spacing:0;margin-left:3px;font-size:10.5px;font-weight:400;-webkit-text-stroke:0.35px #10301c">(9.2)</span></div>
<div class="b" style="left:99.0px;top:868.2px;width:6px;height:6px;border-radius:3px;background:#10301c"></div>
<div class="t" style="left:118.00px;top:887.50px;font-size:15.3px;line-height:15.3px;font-weight:400;color:#10301c;letter-spacing:-0.209px;-webkit-text-stroke:0.25px #10301c;">Promote individual and collective reflection<span style="font-size:10.3px;font-weight:700;letter-spacing:0;margin-left:3px;font-size:10.5px;font-weight:400;-webkit-text-stroke:0.35px #10301c">(9.3)</span></div>
<div class="b" style="left:99.0px;top:892.7px;width:6px;height:6px;border-radius:3px;background:#10301c"></div>
<div class="t" style="left:118.00px;top:912.50px;font-size:15.3px;line-height:15.3px;font-weight:400;color:#10301c;letter-spacing:-0.300px;-webkit-text-stroke:0.25px #10301c;">Cultivate empathy and restorative practices<span style="font-size:10.3px;font-weight:700;letter-spacing:0;margin-left:3px;font-size:10.5px;font-weight:400;-webkit-text-stroke:0.35px #10301c">(9.4)</span></div>
<div class="b" style="left:99.0px;top:917.7px;width:6px;height:6px;border-radius:3px;background:#10301c"></div>
<div class="b" style="left:516px;top:767px;width:434px;height:210px;background:#d9d5eb;border-radius:20px;"></div>
<div class="t" style="left:535.00px;top:785.38px;font-size:17.2px;line-height:17.2px;font-weight:400;color:#1a1530;letter-spacing:-0.100px;-webkit-text-stroke:0.15px #1a1530;">Design Options for</div>
<div class="t" style="left:535.00px;top:809.34px;font-size:19.6px;line-height:19.6px;font-weight:700;color:#1a1530;letter-spacing:-0.692px;-webkit-text-stroke:0.3px #1a1530;">Building Knowledge<span style="font-size:10.3px;font-weight:700;letter-spacing:0;margin-left:3px;font-weight:400;-webkit-text-stroke:0.4px #1a1530">(3)</span></div>
<div class="t" style="left:556.50px;top:838.00px;font-size:15.3px;line-height:15.3px;font-weight:400;color:#1a1530;letter-spacing:-0.311px;-webkit-text-stroke:0.25px #1a1530;">Connect prior knowledge to new learning<span style="font-size:10.3px;font-weight:700;letter-spacing:0;margin-left:3px;font-size:10.5px;font-weight:400;-webkit-text-stroke:0.35px #1a1530">(3.1)</span></div>
<div class="b" style="left:537.0px;top:843.2px;width:6px;height:6px;border-radius:3px;background:#1a1530"></div>
<div class="t" style="left:556.50px;top:862.00px;font-size:15.3px;line-height:15.3px;font-weight:400;color:#1a1530;letter-spacing:-0.345px;-webkit-text-stroke:0.25px #1a1530;">Highlight and explore patterns, critical features, big ideas,</div>
<div class="b" style="left:537.0px;top:867.2px;width:6px;height:6px;border-radius:3px;background:#1a1530"></div>
<div class="t" style="left:556.50px;top:883.00px;font-size:15.3px;line-height:15.3px;font-weight:400;color:#1a1530;letter-spacing:-0.387px;-webkit-text-stroke:0.25px #1a1530;">and relationships<span style="font-size:10.3px;font-weight:700;letter-spacing:0;margin-left:3px;font-size:10.5px;font-weight:400;-webkit-text-stroke:0.35px #1a1530">(3.2)</span></div>
<div class="t" style="left:556.50px;top:908.00px;font-size:15.3px;line-height:15.3px;font-weight:400;color:#1a1530;letter-spacing:-0.321px;-webkit-text-stroke:0.25px #1a1530;">Cultivate multiple ways of knowing and making meaning<span style="font-size:10.3px;font-weight:700;letter-spacing:0;margin-left:3px;font-size:10.5px;font-weight:400;-webkit-text-stroke:0.35px #1a1530">(3.3)</span></div>
<div class="b" style="left:537.0px;top:913.2px;width:6px;height:6px;border-radius:3px;background:#1a1530"></div>
<div class="t" style="left:556.50px;top:932.50px;font-size:15.3px;line-height:15.3px;font-weight:400;color:#1a1530;letter-spacing:-0.357px;-webkit-text-stroke:0.25px #1a1530;">Maximize transfer and generalization<span style="font-size:10.3px;font-weight:700;letter-spacing:0;margin-left:3px;font-size:10.5px;font-weight:400;-webkit-text-stroke:0.35px #1a1530">(3.4)</span></div>
<div class="b" style="left:537.0px;top:937.7px;width:6px;height:6px;border-radius:3px;background:#1a1530"></div>
<div class="b" style="left:961px;top:768px;width:436px;height:210px;background:#c0e7f7;border-radius:20px;"></div>
<div class="t" style="left:983.00px;top:787.38px;font-size:17.2px;line-height:17.2px;font-weight:400;color:#0f2638;letter-spacing:-0.047px;-webkit-text-stroke:0.15px #0f2638;">Design Options for</div>
<div class="t" style="left:983.00px;top:810.84px;font-size:19.6px;line-height:19.6px;font-weight:700;color:#0f2638;letter-spacing:-0.527px;-webkit-text-stroke:0.3px #0f2638;">Strategy Development<span style="font-size:10.3px;font-weight:700;letter-spacing:0;margin-left:3px;font-weight:400;-webkit-text-stroke:0.4px #0f2638">(6)</span></div>
<div class="t" style="left:1005.00px;top:839.00px;font-size:15.3px;line-height:15.3px;font-weight:400;color:#0f2638;letter-spacing:-0.521px;-webkit-text-stroke:0.25px #0f2638;">Set meaningful goals<span style="font-size:10.3px;font-weight:700;letter-spacing:0;margin-left:3px;font-size:10.5px;font-weight:400;-webkit-text-stroke:0.35px #0f2638">(6.1)</span></div>
<div class="b" style="left:985.5px;top:844.2px;width:6px;height:6px;border-radius:3px;background:#0f2638"></div>
<div class="t" style="left:1005.00px;top:863.00px;font-size:15.3px;line-height:15.3px;font-weight:400;color:#0f2638;letter-spacing:-0.433px;-webkit-text-stroke:0.25px #0f2638;">Anticipate and plan for challenges<span style="font-size:10.3px;font-weight:700;letter-spacing:0;margin-left:3px;font-size:10.5px;font-weight:400;-webkit-text-stroke:0.35px #0f2638">(6.2)</span></div>
<div class="b" style="left:985.5px;top:868.2px;width:6px;height:6px;border-radius:3px;background:#0f2638"></div>
<div class="t" style="left:1005.00px;top:887.50px;font-size:15.3px;line-height:15.3px;font-weight:400;color:#0f2638;letter-spacing:-0.433px;-webkit-text-stroke:0.25px #0f2638;">Organize information and resources<span style="font-size:10.3px;font-weight:700;letter-spacing:0;margin-left:3px;font-size:10.5px;font-weight:400;-webkit-text-stroke:0.35px #0f2638">(6.3)</span></div>
<div class="b" style="left:985.5px;top:892.7px;width:6px;height:6px;border-radius:3px;background:#0f2638"></div>
<div class="t" style="left:1005.00px;top:912.00px;font-size:15.3px;line-height:15.3px;font-weight:400;color:#0f2638;letter-spacing:-0.413px;-webkit-text-stroke:0.25px #0f2638;">Enhance capacity for monitoring progress<span style="font-size:10.3px;font-weight:700;letter-spacing:0;margin-left:3px;font-size:10.5px;font-weight:400;-webkit-text-stroke:0.35px #0f2638">(6.4)</span></div>
<div class="b" style="left:985.5px;top:917.2px;width:6px;height:6px;border-radius:3px;background:#0f2638"></div>
<div class="t" style="left:1005.00px;top:936.50px;font-size:15.3px;line-height:15.3px;font-weight:400;color:#0f2638;letter-spacing:-0.510px;-webkit-text-stroke:0.25px #0f2638;">Challenge exclusionary practices<span style="font-size:10.3px;font-weight:700;letter-spacing:0;margin-left:3px;font-size:10.5px;font-weight:400;-webkit-text-stroke:0.35px #0f2638">(6.5)</span></div>
<div class="b" style="left:985.5px;top:941.7px;width:6px;height:6px;border-radius:3px;background:#0f2638"></div>
<div class="t" style="left:46.5px;top:401.5px;font-size:14.5px;line-height:14.5px;color:#2a2a2a;transform:translate(-50%,-50%) rotate(-90deg);">Access</div>
<div class="t" style="left:47px;top:630px;font-size:14.5px;line-height:14.5px;color:#2a2a2a;letter-spacing:0.35px;transform:translate(-50%,-50%) rotate(-90deg);">Support</div>
<div class="t" style="left:47.5px;top:877px;font-size:14.5px;line-height:14.5px;color:#2a2a2a;letter-spacing:0.22px;transform:translate(-50%,-50%) rotate(-90deg);">Executive Function</div>
<svg class="b" style="left:50px;top:1000px" width="40" height="40" viewBox="0 0 40 40">
<circle cx="21.5" cy="19" r="11.3" fill="none" stroke="#3b3935" stroke-width="6.2"/>
<rect x="21.5" y="0" width="18.5" height="11.1" fill="#fff"/>
<rect x="0" y="27.4" width="21.5" height="12.6" fill="#fff"/>
</svg>
<div class="t" style="left:89.30px;top:1008.30px;font-size:22px;line-height:22px;font-weight:700;color:#3b3935;letter-spacing:0.567px;">CAST</div>
<div class="b" style="left:158px;top:1007px;width:1px;height:24px;background:#e2e0dc"></div>
<div class="t" style="left:164.30px;top:1008.60px;font-size:22px;line-height:22px;font-weight:400;color:#2f2d2a;letter-spacing:0.073px;">Until learning has no limits</div>
<div class="b" style="left:424px;top:1011px;font-size:8px;line-height:8px;color:#888;white-space:nowrap">®</div>
<div class="t" style="left:1156.20px;top:1001.79px;font-size:12.6px;line-height:12.6px;font-weight:700;color:#1e1e1e;letter-spacing:-0.305px;">udlguidelines.cast.org</div>
<div class="t" style="left:1287.00px;top:1001.79px;font-size:12.6px;line-height:12.6px;font-weight:400;color:#2a2a2a;letter-spacing:0.050px;">© CAST, Inc. 2024</div>
<div class="t" style="left:666.90px;top:1019.29px;font-size:12.6px;line-height:12.6px;font-weight:400;color:#2a2a2a;letter-spacing:0.014px;">Suggested Citation: CAST (2024). Universal Design for Learning Guidelines version 3.0 [graphic organizer]. Lynnfield, MA: Author.</div>
</body></html>
